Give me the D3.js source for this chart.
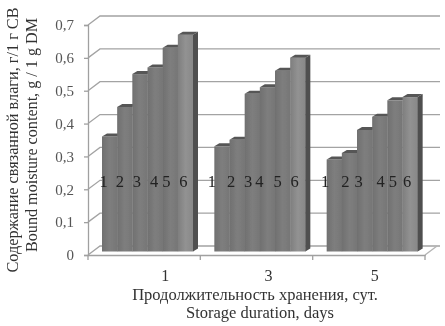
<!DOCTYPE html>
<html>
<head>
<meta charset="utf-8">
<script src="https://d3js.org/d3.v7.min.js"></script>
<style>
  html, body { margin: 0; padding: 0; background: #fff; }
  text { font-family: "Liberation Serif", serif; }
</style>
</head>
<body>
<div id="chart"></div>
<script>
// Values
const days = ['1', '3', '5'];
const samples = ['1', '2', '3', '4', '5', '6'];
const day1 = [0.35, 0.44, 0.54, 0.56, 0.62, 0.66];
const day3 = [0.32, 0.34, 0.48, 0.50, 0.55, 0.59];
const day5 = [0.28, 0.30, 0.37, 0.41, 0.46, 0.47];
const yTicks = [0, 0.1, 0.2, 0.3, 0.4, 0.5, 0.6, 0.7];

const width = 445;
const height = 326;

// Fake 3D offset of the back wall and of the bars
const wallDx = 12;
const wallDy = -9;
const barDx = 5;
const barDy = -3;
const barLift = 3.5;

const svg = d3.select('#chart').append('svg').attr('width', width).attr('height', height).style('display', 'block');

const defs = svg.append('defs');
defs.append('filter').attr('id', 'soft').append('feGaussianBlur').attr('stdDeviation', 0.45);

function addGradient(id, stops) {
  const g = defs.append('linearGradient').attr('id', id);
  stops.forEach((s) => g.append('stop').attr('offset', s[0]).attr('stop-color', s[1]));
}
addGradient('barFill', [[0, '#707070'], [0.5, '#7e7e7e'], [1, '#767676']]);
addGradient('lastFill', [[0, '#7e7e7e'], [0.5, '#929292'], [1, '#888888']]);

const root = svg.append('g').attr('filter', 'url(#soft)');

const y = d3.scaleLinear().domain([0, 0.7]).range([255, 25]);
const xDay = d3.scaleBand().domain(days).range([88, 425]);
const xSample = d3.scaleBand().domain(samples).range([14, 105]);

// Back wall grid, with the little diagonals to the front axis
const grid = root.append('g');
grid.selectAll('.grid')
  .data(yTicks)
  .enter()
  .append('path')
  .attr('fill', 'none')
  .attr('stroke', '#a3a3a3')
  .attr('stroke-width', 1.3)
  .attr('d', (d) => `M88,${y(d)}L${88 + wallDx},${y(d) + wallDy}H440`);

// Floor
grid.append('path')
  .attr('fill', 'none')
  .attr('stroke', '#b4b4b4')
  .attr('stroke-width', 1.3)
  .attr('d', `M425,${y(0)}L${425 + wallDx},${y(0) + wallDy}`);

// Axes
const yAxis = d3.axisLeft(y)
  .tickValues(yTicks)
  .tickSize(4)
  .tickPadding(10)
  .tickFormat((d) => (d === 0 ? '0' : d3.format('.1f')(d).replace('.', ',')));
const yG = root.append('g').attr('transform', 'translate(88,0)').call(yAxis);
yG.selectAll('path, line').attr('stroke', '#a0a0a0').attr('stroke-width', 1.3);
yG.selectAll('text').attr('font-size', 15).attr('fill', '#555').attr('font-family', '"Liberation Serif", serif');

const xAxis = d3.axisBottom(xDay).tickSize(0).tickFormat('');
const xG = root.append('g').attr('transform', `translate(0,${y(0)})`).call(xAxis);
xG.selectAll('path').attr('stroke', '#a0a0a0').attr('stroke-width', 1.3);
xG.selectAll('.tick').remove();
xG.selectAll('.mark')
  .data([88, 200.3, 312.7, 425])
  .enter()
  .append('line')
  .attr('x1', (d) => d)
  .attr('x2', (d) => d)
  .attr('y1', 0)
  .attr('y2', 5)
  .attr('stroke', '#a0a0a0')
  .attr('stroke-width', 1.3);

// Day labels sit off the band centres in the original
const dayNudge = [21, 12, 6];
root.selectAll('.day')
  .data(days)
  .enter()
  .append('text')
  .attr('x', (d, i) => xDay(d) + xDay.bandwidth() / 2 + dayNudge[i])
  .attr('y', 281)
  .attr('text-anchor', 'middle')
  .attr('font-size', 16)
  .attr('fill', '#333')
  .text((d) => d);

// Bars
const series = [day1, day3, day5];
series.forEach((vals, gi) => {
  const g = root.append('g').attr('transform', `translate(${xDay(days[gi])},0)`);
  const w = xSample.bandwidth();
  const bars = g.selectAll('.bar')
    .data(vals)
    .enter()
    .append('g');

  bars.append('rect')
    .attr('x', (d, i) => xSample(samples[i]))
    .attr('y', (d) => y(d) - barLift)
    .attr('width', w + 0.3)
    .attr('height', (d) => y(0) - y(d))
    .attr('fill', (d, i) => (i === 5 ? 'url(#lastFill)' : 'url(#barFill)'));

  bars.append('path')
    .attr('fill', '#565656')
    .attr('d', (d, i) => {
      const x0 = xSample(samples[i]);
      const top = y(d) - barLift;
      return `M${x0},${top}l${barDx},${barDy}h${w}l${-barDx},${-barDy}Z`;
    });

  // Only the last bar shows its side
  const last = vals[vals.length - 1];
  const xr = xSample(samples[5]) + w;
  g.append('path')
    .attr('fill', '#505050')
    .attr('d', `M${xr},${y(last) - barLift}l${barDx},${barDy}V${y(0) - barLift + barDy}l${-barDx},${-barDy}Z`);
});

// Sample numbers over the bars, hand placed in the original
const labelNudge = [
  [-6, -5, -3, -1, -4, -2],
  [-10, -6, -4, -8, -5, -3],
  [-9, -4, -6, 1, -2, -3],
];
series.forEach((vals, gi) => {
  root.append('g')
    .attr('transform', `translate(${xDay(days[gi])},0)`)
    .selectAll('text')
    .data(samples)
    .enter()
    .append('text')
    .attr('x', (d, i) => xSample(d) + xSample.bandwidth() / 2 + labelNudge[gi][i])
    .attr('y', 187)
    .attr('text-anchor', 'middle')
    .attr('font-size', 16.5)
    .attr('fill', '#222')
    .text((d) => d);
});

// Axis titles
function yTitle(txt, x, cy, len) {
  root.append('text')
    .attr('transform', `translate(${x},${cy}) rotate(-90)`)
    .attr('text-anchor', 'middle')
    .attr('font-size', 16)
    .attr('fill', '#333')
    .attr('textLength', len)
    .attr('lengthAdjust', 'spacingAndGlyphs')
    .text(txt);
}
yTitle('Содержание связанной влаги, г/1 г СВ', 18, 140, 265);
yTitle('Bound moisture content, g / 1 g DM', 37, 135, 234);

function xTitle(txt, cx, yy) {
  root.append('text')
    .attr('x', cx)
    .attr('y', yy)
    .attr('text-anchor', 'middle')
    .attr('font-size', 16.5)
    .attr('fill', '#333')
    .text(txt);
}
xTitle('Продолжительность хранения, сут.', 255, 300);
xTitle('Storage duration, days', 260, 318);
</script>
</body>
</html>
